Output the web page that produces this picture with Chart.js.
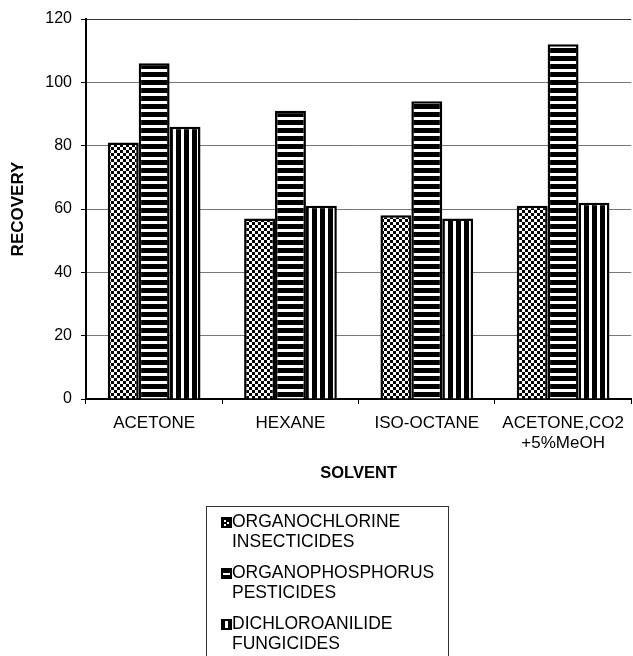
<!DOCTYPE html>
<html>
<head>
<meta charset="utf-8">
<script src="https://cdn.jsdelivr.net/npm/chart.js@4"></script>
<style>
  body { margin: 0; background: #fff; }
  #wrap { width: 633px; height: 656px; }
</style>
</head>
<body>
<div id="wrap"><canvas id="grafico" width="633" height="656"></canvas></div>
<script>
// ============================
// Data
// ============================
const solvents = ["ACETONE", "HEXANE", "ISO-OCTANE", ["ACETONE,CO2", "+5%MeOH"]];
const organochlorine = [81, 57, 58, 61];
const organophosphorus = [106, 91, 94, 112];
const dichloroanilide = [86, 61, 57, 62];
const legendLines = [
  ["ORGANOCHLORINE", "INSECTICIDES"],
  ["ORGANOPHOSPHORUS", "PESTICIDES"],
  ["DICHLOROANILIDE", "FUNGICIDES"]
];
const yTicks = [0, 20, 40, 60, 80, 100, 120];

const FONT = "'Liberation Sans', Arial, Helvetica, sans-serif";
const hatchKinds = ["checker", "horizontal", "vertical"];

// ============================
// Hatch patterns
// ============================
function makePattern(kind) {
  const c = document.createElement("canvas");
  const g = c.getContext("2d");
  if (kind === "checker") {
    c.width = 6; c.height = 6;
    g.fillStyle = "#fff"; g.fillRect(0, 0, 6, 6);
    g.fillStyle = "#000"; g.fillRect(0, 0, 3, 3); g.fillRect(3, 3, 3, 3);
  } else if (kind === "horizontal") {
    c.width = 8; c.height = 8;
    g.fillStyle = "#fff"; g.fillRect(0, 0, 8, 8);
    g.fillStyle = "#000"; g.fillRect(0, 0, 8, 5);
  } else {
    c.width = 8; c.height = 8;
    g.fillStyle = "#fff"; g.fillRect(0, 0, 8, 8);
    g.fillStyle = "#000"; g.fillRect(0, 0, 5, 8);
  }
  return g.createPattern(c, "repeat");
}

// small legend key: black square with a white mark
function drawKey(ctx, kind, x, y) {
  ctx.fillStyle = "#000";
  ctx.fillRect(x, y, 11, 11);
  ctx.fillStyle = "#fff";
  if (kind === "checker") {
    ctx.fillRect(x + 3, y + 3, 2, 2);
    ctx.fillRect(x + 6, y + 5, 2, 2);
    ctx.fillRect(x + 3, y + 7, 2, 2);
  } else if (kind === "horizontal") {
    ctx.fillRect(x + 2, y + 5, 7, 2);
  } else {
    ctx.fillRect(x + 4, y + 2, 3, 7);
  }
}

// ============================
// Boxed legend under the chart
// ============================
const boxLegend = {
  id: "boxLegend",
  afterDraw(chart) {
    const ctx = chart.ctx;
    ctx.save();
    ctx.strokeStyle = "#333";
    ctx.lineWidth = 1;
    ctx.strokeRect(206.5, 506.5, 242, 170);
    ctx.font = "17.5px " + FONT;
    ctx.textBaseline = "middle";
    chart.data.datasets.forEach((ds, i) => {
      const y = 522 + i * 51;
      drawKey(ctx, hatchKinds[i], 221, y - 5);
      ctx.fillStyle = "#000";
      legendLines[i].forEach((linha, j) => ctx.fillText(linha, 232, y + j * 20.5));
    });
    ctx.restore();
  }
};

const ctx = document.getElementById("grafico").getContext("2d");
const grafico = new Chart(ctx, {
  type: "bar",
  data: {
    labels: solvents,
    datasets: [
      { label: legendLines[0].join(" "), data: organochlorine, backgroundColor: makePattern(hatchKinds[0]) },
      { label: legendLines[1].join(" "), data: organophosphorus, backgroundColor: makePattern(hatchKinds[1]) },
      { label: legendLines[2].join(" "), data: dichloroanilide, backgroundColor: makePattern(hatchKinds[2]) }
    ].map(d => ({ ...d, borderColor: "#000", borderWidth: 2.5, categoryPercentage: 0.68, barPercentage: 1 }))
  },
  options: {
    responsive: false,
    animation: false,
    devicePixelRatio: 1,
    layout: { padding: { top: 19, right: 1, bottom: 160, left: 0 } },
    plugins: { legend: { display: false }, tooltip: { enabled: false } },
    scales: {
      x: {
        afterFit: s => { s.height = 97; },
        border: { color: "#000", width: 2 },
        grid: {
          drawOnChartArea: true,
          color: c => (c.index === solvents.length ? "#777" : "rgba(0,0,0,0)"),
          tickColor: "#000",
          tickLength: 5
        },
        ticks: { color: "#000", padding: 9, maxRotation: 0, font: { family: FONT, size: 17 } },
        title: {
          display: true,
          text: "SOLVENT",
          color: "#000",
          padding: { top: 0, bottom: 13 },
          font: { family: FONT, size: 16.5, weight: "bold" }
        }
      },
      y: {
        min: 0,
        max: 120,
        afterFit: s => { s.width = 86; },
        afterBuildTicks: s => { s.ticks = yTicks.map(v => ({ value: v })); },
        border: { color: "#000", width: 2 },
        grid: {
          color: c => (c.tick && c.tick.value === 120 ? "#333" : "#777"),
          tickColor: "#000",
          tickLength: 5
        },
        ticks: { color: "#000", padding: 9, font: { family: FONT, size: 16 } },
        title: {
          display: true,
          text: "RECOVERY",
          color: "#000",
          padding: { top: 8, bottom: 0 },
          font: { family: FONT, size: 17, weight: "bold" }
        }
      }
    }
  },
  plugins: [boxLegend]
});
</script>
</body>
</html>
